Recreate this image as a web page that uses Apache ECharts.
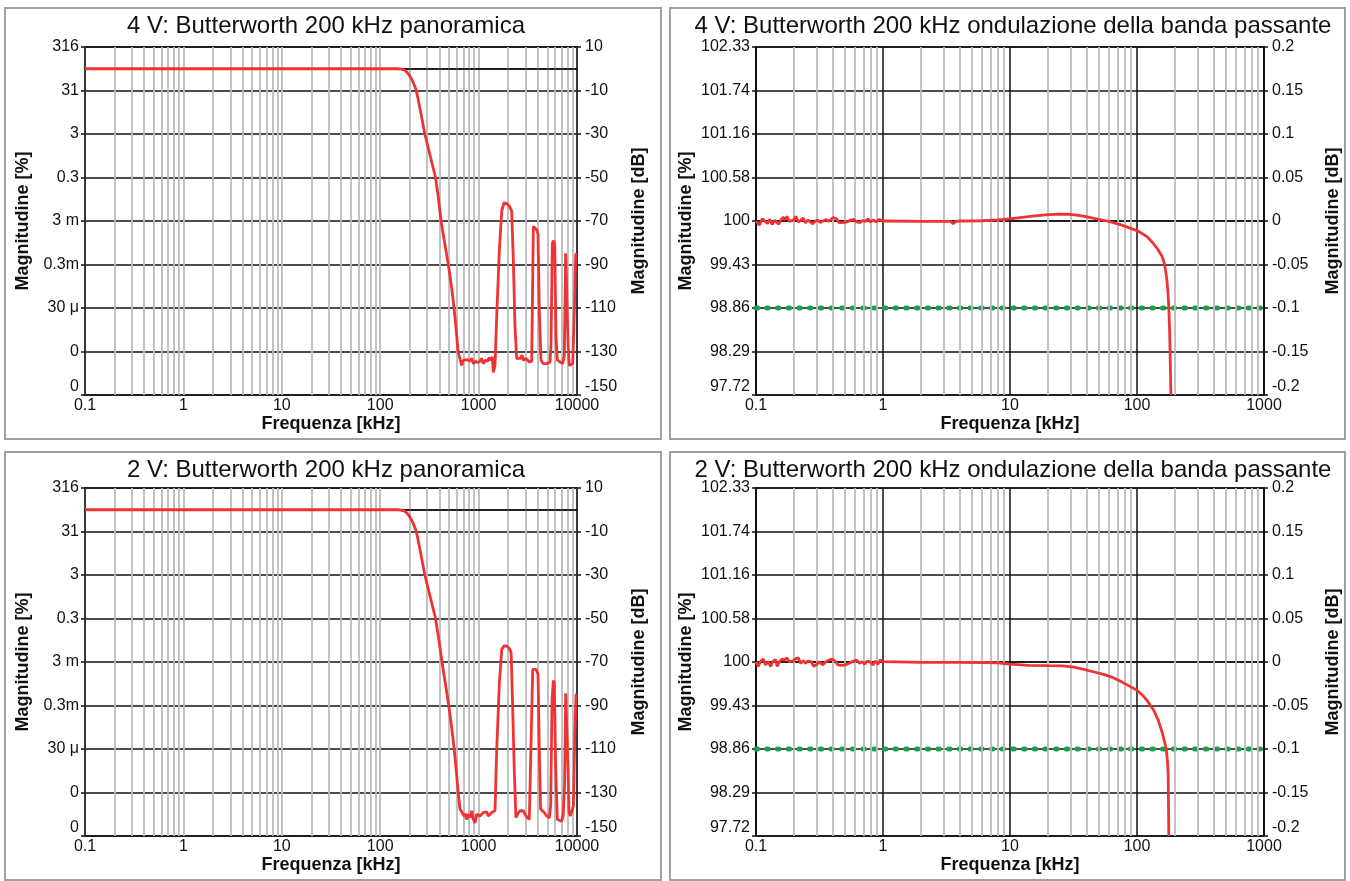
<!DOCTYPE html>
<html><head><meta charset="utf-8">
<script src="https://cdn.jsdelivr.net/npm/echarts@6/dist/echarts.min.js"></script>
<style>html,body{margin:0;padding:0;background:#fff}#c{width:1350px;height:881px}</style>
</head><body><div id="c"></div>
<script>
// ---------------- DATA ----------------
const panelTitles = [
  '4 V: Butterworth 200 kHz panoramica',
  '4 V: Butterworth 200 kHz ondulazione della banda passante',
  '2 V: Butterworth 200 kHz panoramica',
  '2 V: Butterworth 200 kHz ondulazione della banda passante'
];
const xName = 'Frequenza [kHz]';
const yNameLeft = 'Magnitudine [%]';
const yNameRight = 'Magnitudine [dB]';

// overview axes (dB) and labels
const ovTickDB = [10, -10, -30, -50, -70, -90, -110, -130, -150];
const ovLeftLabels = ['316', '31', '3', '0.3', '3 m', '0.3m', '30 \u03bc', '0', '0'];
const ovRightLabels = ['10', '-10', '-30', '-50', '-70', '-90', '-110', '-130', '-150'];
// passband axes (dB) and labels
const pbTickDB = [0.2, 0.15, 0.1, 0.05, 0, -0.05, -0.1, -0.15, -0.2];
const pbLeftLabels = ['102.33', '101.74', '101.16', '100.58', '100', '99.43', '98.86', '98.29', '97.72'];
const pbRightLabels = ['0.2', '0.15', '0.1', '0.05', '0', '-0.05', '-0.1', '-0.15', '-0.2'];

// 4 V overview
const ov4Freq = [0.1, 1, 10, 100, 150, 165, 180, 195, 210, 222, 233, 258, 284, 322, 365, 392, 415, 452, 492, 530, 563, 592, 618, 673,
  700, 728, 768, 805, 851, 883, 934, 979, 1033, 1074, 1116, 1170, 1227, 1285, 1337, 1378, 1412, 1468,
  1527, 1625, 1718, 1812, 1931, 2051, 2169, 2254, 2344, 2438,
  2535, 2680, 2760, 2845, 3033, 3276, 3465,
  3600, 3744, 3893, 4017, 4140, 4307, 4549, 4920, 5321,
  5445, 5612, 5750, 5936, 6118, 6310, 6716, 7150, 7430,
  7674, 7856, 8110, 8356, 8690, 9040, 9400, 9700, 9930];
const ov4DB = [0, 0, 0, 0, 0, -0.2, -0.8, -2.5, -5, -7.5, -10, -20, -30, -40, -50, -60, -70, -80, -90, -100, -110, -120, -130, -136.4,
  -134.0, -134.8, -133.7, -134.5, -133.2, -135.6, -134.5, -135.1, -134.5, -133.2, -135.6, -134.0, -134.5, -132.9, -134.0, -132.4, -139.6, -136.4,
  -114.0, -83.4, -65.5, -61.6, -62.0, -63.2, -65.5, -87.8, -118.9, -133.2,
  -134.0, -133.2, -131.6, -134.0, -133.2, -134.8, -134.5,
  -72.5, -72.5, -74.0, -76.2, -111.2, -134.0, -135.6, -135.6, -134.8,
  -126.8, -80.5, -79.0, -80.5, -123.6, -134.0, -134.8, -135.6, -131.6,
  -84.8, -85.5, -126.8, -136.4, -137.2, -135.6, -111.2, -85.5, -84.8];

// 2 V overview
const ov2Freq = [0.1, 1, 10, 100, 150, 165, 180, 195, 210, 222, 233, 258, 284, 322, 365, 395, 425, 460, 497, 532, 565, 593, 620,
  647, 673, 711, 733, 757, 787, 818, 851, 883, 919, 957, 993, 1033, 1074, 1116, 1162, 1208, 1256, 1306, 1358, 1412, 1468,
  1527, 1625, 1718, 1812, 1931, 2051, 2140, 2210, 2300, 2395,
  2490, 2630, 2730, 2845, 3033, 3276, 3420,
  3548, 3670, 3843, 4017, 4140,
  4265, 4467, 4640, 4920, 5240, 5400,
  5580, 5750, 5880, 6070,
  6310, 6610, 6970, 7230, 7480,
  7674, 7856, 8110,
  8290, 8580, 8920, 9200, 9500, 9780, 9930];
const ov2DB = [0, 0, 0, 0, 0, -0.2, -0.8, -2.5, -5, -7.5, -10, -20, -30, -40, -50, -60, -70, -80, -90, -100, -110, -120, -130,
  -137.6, -138.4, -140.8, -139.7, -142.4, -140.0, -141.6, -138.4, -142.4, -144.0, -140.0, -139.2, -140.8, -140.8, -139.2, -140.0, -138.9, -140.8, -140.0, -139.2, -140.0, -138.4,
  -110.6, -80.0, -64.2, -62.6, -62.6, -63.7, -65.7, -87.6, -118.6, -141.6,
  -140.0, -138.4, -139.2, -138.4, -140.8, -142.4, -141.6,
  -73.4, -72.6, -73.4, -75.6, -110.6,
  -137.6, -138.4, -139.2, -140.8, -141.6, -136.0,
  -87.6, -78.5, -80.0, -118.6,
  -142.4, -143.2, -143.2, -140.8, -126.5,
  -84.4, -84.7, -118.6,
  -139.2, -140.8, -140.8, -136.0, -102.7, -85.2, -84.7];

// 4 V passband
const pb4Freq = [0.1, 0.106, 0.112, 0.116, 0.123, 0.128, 0.134, 0.140, 0.144, 0.151, 0.158, 0.163, 0.170, 0.175, 0.183,
  0.191, 0.200, 0.206, 0.215, 0.225, 0.235, 0.245, 0.256, 0.268, 0.280, 0.293, 0.306, 0.320, 0.334, 0.355,
  0.376, 0.405, 0.429, 0.449, 0.483, 0.520, 0.559, 0.593, 0.620, 0.658, 0.687, 0.729, 0.762, 0.796, 0.845,
  0.883, 0.936, 0.964, 1.0,
  2, 3.4, 3.57, 3.75, 4, 6, 8, 10, 15, 20, 25, 30, 38, 46, 58, 75, 100, 120, 133, 145, 158, 165, 171, 175, 178, 181, 185];
const pb4DB = [0, -0.0047, 0.0025, 0.0043, -0.0029, 0.0018, -0.004, 0.0007, 0.0025, -0.0036, 0.0018, 0.0043, 0.0018, 0.0054, -0.0004,
  0.0004, 0.0018, 0.0054, -0.0011, 0.0007, 0.0033, -0.0022, 0.0011, -0.0011, -0.0033, -0.0004, 0.0011, -0.0018, -0.0004, 0.0018,
  -0.0004, 0.004, 0.0025, -0.0018, -0.0018, -0.0011, 0.0011, 0.0018, -0.0011, -0.0018, 0.0004, -0.0004, 0.0025, -0.0011, 0.0011,
  -0.0011, 0.0018, 0.0033, 0,
  -0.0004, -0.0005, -0.003, -0.0005, 0, 0.0003, 0.0012, 0.0025, 0.0055, 0.0073, 0.008, 0.0077, 0.0055, 0.003, 0, -0.0045,
  -0.011, -0.018, -0.025, -0.032, -0.041, -0.05, -0.065, -0.08, -0.1, -0.13, -0.2];

// 2 V passband
const pb2Freq = [0.1, 0.104, 0.109, 0.114, 0.119, 0.125, 0.130, 0.136, 0.142, 0.147, 0.153, 0.160, 0.167, 0.175, 0.183,
  0.194, 0.206, 0.215, 0.225, 0.235, 0.245, 0.256, 0.272, 0.284, 0.302, 0.315, 0.334, 0.355, 0.376, 0.399,
  0.420, 0.442, 0.469, 0.503, 0.542, 0.584, 0.620, 0.653, 0.687, 0.718, 0.751, 0.786, 0.833, 0.872, 0.910,
  0.952, 0.980, 1.0,
  2, 4, 6, 8, 10, 14, 20, 25.8, 32, 38.8, 46, 54.6, 65, 77, 88, 100, 112, 124, 136, 147, 158, 165, 170, 174, 176, 178];
const pb2DB = [0.0004, -0.0051, 0.0011, 0.0033, -0.0033, 0.0004, -0.0051, 0.0004, 0.0029, -0.0051, 0.0004, 0.0033, 0.0022, 0.0047, 0.0004,
  0.0011, 0.004, 0.0047, -0.0015, 0.0015, -0.0015, 0.0011, 0.0004, -0.0051, -0.0026, 0.0004, -0.0033, 0.0004, 0.0022, 0.0033,
  0.0011, -0.0033, -0.004, -0.0033, -0.0015, 0.0011, 0.0022, -0.0015, 0.0004, -0.0026, 0.0011, 0.0004, -0.0033, 0.0011, -0.0026,
  0.0022, 0.0011, 0.0004,
  -0.0005, -0.0005, -0.0006, -0.001, -0.0025, -0.0038, -0.0042, -0.0044, -0.006, -0.0088, -0.0115, -0.0142, -0.018, -0.0234, -0.028,
  -0.0325, -0.039, -0.047, -0.056, -0.067, -0.081, -0.092, -0.1, -0.115, -0.128, -0.2];

// passband limit (-0.1 dB)
const limitFreq = [0.1, 1000];
const limitDB = [-0.1, -0.1];

// ---------------- CHART ----------------
const FONT = 'Liberation Sans';
const RED = '#f03232';
const GREY = '#b9bdbd';
const BLACK = '#111';

function zip(a, b) { return a.map((v, i) => [v, b[i]]); }
function minorGrid(minV, maxV) {
  const out = [];
  for (let d = minV; d < maxV; d *= 10) {
    for (let m = 2; m <= 9; m++) out.push(+(m * d).toPrecision(6));
  }
  return out;
}
function lookup(ticks, labels) {
  return function (v) {
    for (let i = 0; i < ticks.length; i++) if (Math.abs(v - ticks[i]) < 1e-6) return labels[i];
    return '';
  };
}

const panels = [
  { left: 85, top: 47, width: 492, height: 348, ov: true, f: ov4Freq, d: ov4DB, xMax: 10000, gapL: 53, gapR: 53 },
  { left: 756, top: 47, width: 508, height: 348, ov: false, f: pb4Freq, d: pb4DB, xMax: 1000, gapL: 61, gapR: 60 },
  { left: 85, top: 488, width: 492, height: 348, ov: true, f: ov2Freq, d: ov2DB, xMax: 10000, gapL: 53, gapR: 53 },
  { left: 756, top: 488, width: 508, height: 348, ov: false, f: pb2Freq, d: pb2DB, xMax: 1000, gapL: 61, gapR: 60 }
];

const grid = [], xAxis = [], yAxis = [], series = [];
panels.forEach((p, i) => {
  grid.push({ left: p.left, top: p.top, width: p.width, height: p.height, show: true, borderColor: BLACK, borderWidth: 1.5, backgroundColor: 'transparent' });
  xAxis.push({
    type: 'log', logBase: 10, min: 0.1, max: p.xMax, gridIndex: i,
    name: xName, nameLocation: 'middle', nameGap: 20,
    nameTextStyle: { fontFamily: FONT, fontSize: 18, fontWeight: 'bold', color: BLACK },
    axisLine: { show: true, lineStyle: { color: BLACK, width: 1.5 } },
    axisTick: { show: false },
    axisLabel: { show: true, margin: 3, fontFamily: FONT, fontSize: 16, color: BLACK, showMinLabel: true, showMaxLabel: true,
      formatter: v => String(Number(v.toPrecision(6))) },
    splitLine: { show: true, lineStyle: { color: p.ov ? GREY : BLACK, width: p.ov ? 1.8 : 1.5 } }
  });
  const yBase = p.ov ? { min: -150, max: 10, interval: 20 } : { min: -0.2, max: 0.2, interval: 0.05 };
  const ticks = p.ov ? ovTickDB : pbTickDB;
  const common = {
    type: 'value', gridIndex: i, ...yBase,
    nameLocation: 'middle', nameRotate: 90,
    nameTextStyle: { fontFamily: FONT, fontSize: 18, fontWeight: 'bold', color: BLACK },
    axisLine: { show: true, lineStyle: { color: BLACK, width: 1.5 } },
    axisTick: { show: true, length: 4, lineStyle: { color: BLACK, width: 1.5 } }
  };
  yAxis.push(Object.assign({}, common, {
    position: 'left', name: yNameLeft, nameGap: p.gapL,
    axisLabel: { margin: 6, fontFamily: FONT, fontSize: 16, color: BLACK, verticalAlignMinLabel: 'bottom',
      formatter: lookup(ticks, p.ov ? ovLeftLabels : pbLeftLabels) },
    splitLine: { show: true, lineStyle: { color: BLACK, width: 1.5 } }
  }));
  yAxis.push(Object.assign({}, common, {
    position: 'right', name: yNameRight, nameGap: p.gapR,
    axisLabel: { margin: 8, fontFamily: FONT, fontSize: 16, color: BLACK, verticalAlignMinLabel: 'bottom',
      formatter: lookup(ticks, p.ov ? ovRightLabels : pbRightLabels) },
    splitLine: { show: false }
  }));
  // grid helper series: minor log lines (+0 dB line on overview)
  const mlData = minorGrid(0.1, p.xMax).map(v => ({ xAxis: v }));
  if (p.ov) mlData.push({ yAxis: 0, lineStyle: { color: BLACK, width: 1.5, type: 'solid' } });
  series.push({
    type: 'line', xAxisIndex: i, yAxisIndex: 2 * i, data: [], z: 1, silent: true,
    markLine: { silent: true, symbol: ['none', 'none'], label: { show: false }, animation: false,
      lineStyle: { color: GREY, width: 1.8, type: 'solid' }, emphasis: { disabled: true }, data: mlData }
  });
  if (!p.ov) {
    series.push({
      type: 'line', xAxisIndex: i, yAxisIndex: 2 * i, data: zip(limitFreq, limitDB), z: 3, silent: true,
      showSymbol: false, lineStyle: { color: '#1f9e4a', width: 5, type: [1.5, 9.2], cap: 'round' }
    });
  }
  series.push({
    type: 'line', xAxisIndex: i, yAxisIndex: 2 * i, data: zip(p.f, p.d), z: 5, silent: true,
    showSymbol: false, lineStyle: { color: RED, width: 2.8 }
  });
});

const boxes = [[5, 8, 656, 431], [670, 8, 675, 431], [5, 452, 656, 428], [670, 452, 675, 428]];
const titlePos = [[326, 26], [1013, 26], [326, 470], [1013, 470]];
const graphic = boxes.map(b => ({ type: 'rect', silent: true, shape: { x: b[0], y: b[1], width: b[2], height: b[3] },
  style: { fill: 'none', stroke: '#a0a0a0', lineWidth: 2 } }));
titlePos.forEach((t, i) => graphic.push({ type: 'text', x: t[0], y: t[1], silent: true,
  style: { text: panelTitles[i], fontFamily: FONT, fontSize: 24, fill: BLACK, align: 'center', verticalAlign: 'middle' } }));

const chart = echarts.init(document.getElementById('c'), null, { renderer: 'canvas' });
chart.setOption({ animation: false, backgroundColor: '#fff', grid, xAxis, yAxis, series, graphic });
</script></body></html>
